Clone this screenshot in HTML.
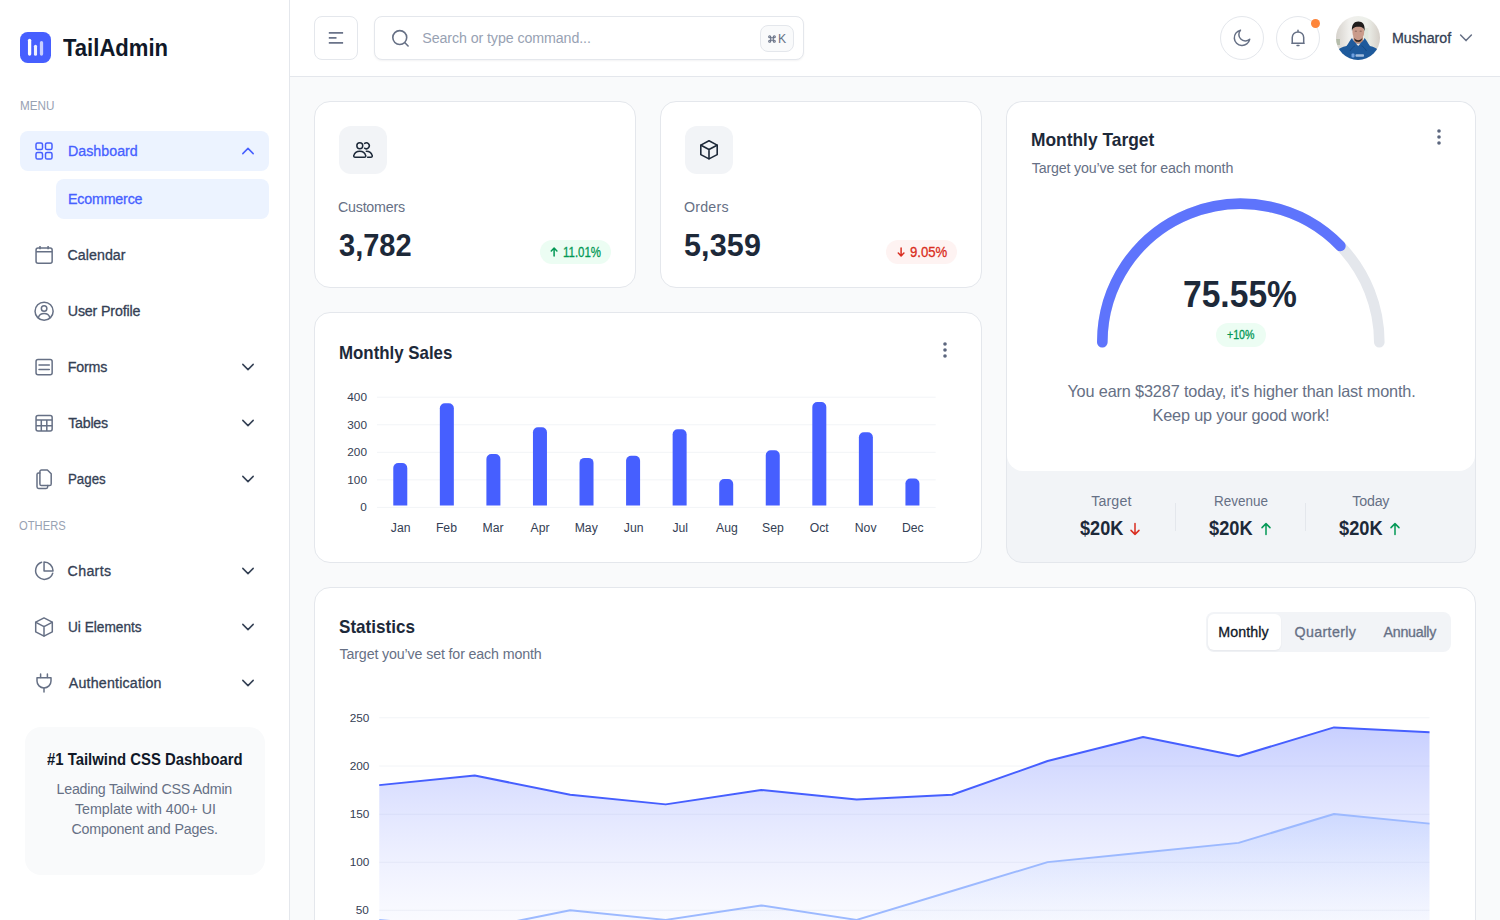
<!DOCTYPE html>
<html><head><meta charset="utf-8"><title>TailAdmin Dashboard</title>
<style>
*{box-sizing:border-box;margin:0;padding:0}
html,body{width:1500px;height:920px;overflow:hidden}
body{background:#f9fafb;font-family:"Liberation Sans",sans-serif;position:relative}
.t{position:absolute;white-space:nowrap}
.a{position:absolute}
svg.a{overflow:visible}
.card{position:absolute;background:#fff;border:1px solid #e4e7ec;border-radius:16px}
.ic{position:absolute;width:24px;height:24px;overflow:visible}
.ic *{fill:none;stroke:#667085;stroke-width:1.5;stroke-linecap:round;stroke-linejoin:round}
.chev{position:absolute;width:20px;height:20px;overflow:visible}
.chev path{fill:none;stroke:#344054;stroke-width:1.5;stroke-linecap:round;stroke-linejoin:round}
.hbtn{position:absolute;width:44px;height:44px;border:1px solid #e4e7ec;background:#fff}

</style></head><body>
<div class="a" style="left:0;top:0;width:290px;height:920px;background:#fff;border-right:1px solid #e4e7ec"></div>
<svg class="a" style="left:20px;top:32px" width="31" height="31" viewBox="0 0 32 32">
<rect width="32" height="32" rx="8" fill="#465fff"/>
<rect x="8.2" y="6.9" width="3.4" height="17.6" rx="1.7" fill="#fff"/>
<rect x="14.4" y="13.2" width="3.2" height="11.3" rx="1.6" fill="#fff" fill-opacity=".9"/>
<rect x="20.5" y="9.3" width="3.4" height="15.2" rx="1.7" fill="#fff" fill-opacity=".7"/>
</svg>
<div class="a" style="left:20px;top:131px;width:249px;height:40px;background:#ecf3ff;border-radius:8px"></div>
<div class="a" style="left:56px;top:179px;width:213px;height:40px;background:#ecf3ff;border-radius:8px"></div>
<svg class="ic" style="left:32px;top:139px" viewBox="0 0 24 24">
<rect x="4" y="4" width="6.5" height="6.5" rx="1.6" style="stroke:#465fff"/><rect x="13.5" y="4" width="6.5" height="6.5" rx="1.6" style="stroke:#465fff"/>
<rect x="4" y="13.5" width="6.5" height="6.5" rx="1.6" style="stroke:#465fff"/><rect x="13.5" y="13.5" width="6.5" height="6.5" rx="1.6" style="stroke:#465fff"/></svg>
<svg class="ic" style="left:32px;top:243px" viewBox="0 0 24 24"><rect x="4.05" y="5" width="16.1" height="15.25" rx="2"/><path d="M8 2.9V6.2M16.1 2.9V6.2M4.1 8.75H20.1" style="stroke-linecap:butt"/></svg>
<svg class="ic" style="left:32px;top:299px" viewBox="0 0 24 24"><circle cx="12.1" cy="12.2" r="9.05"/><circle cx="12.1" cy="9.4" r="2.75"/><path d="M6.4 18.4C7.3 15.9 9.4 14.6 12.1 14.6C14.8 14.6 16.9 15.9 17.8 18.4"/></svg>
<svg class="ic" style="left:32px;top:355px" viewBox="0 0 24 24"><rect x="4.05" y="4.55" width="16.1" height="15.3" rx="2"/><path d="M7 9.9H17.3M7 14.4H17.3"/></svg>
<svg class="ic" style="left:32px;top:411px" viewBox="0 0 24 24"><rect x="4.05" y="4.55" width="16.1" height="15.4" rx="2"/><path d="M4.1 9.1H20.1M4.1 14.7H20.1M9.3 9.1V19.9M14.8 9.1V19.9" style="stroke-linecap:butt"/></svg>
<svg class="ic" style="left:32px;top:467px" viewBox="0 0 24 24"><path d="M9.5 3H15.4L19.2 6.8V16.9C19.2 17.8 18.5 18.5 17.6 18.5H9.5C8.6 18.5 7.9 17.8 7.9 16.9V4.6C7.9 3.7 8.6 3 9.5 3Z"/><path d="M7.9 6H6.6C5.7 6 5 6.7 5 7.6V19.8C5 20.7 5.7 21.4 6.6 21.4H14.1C15 21.4 15.7 20.7 15.7 19.8V18.5"/></svg>
<svg class="ic" style="left:32px;top:559px" viewBox="0 0 24 24"><path d="M9.6 3.3A8.75 8.75 0 1 0 20.7 14.3"/><path d="M12.05 2.95V12H21.05A9.05 9.05 0 0 0 12.05 2.95Z"/></svg>
<svg class="ic" style="left:32px;top:615px" viewBox="0 0 24 24"><path d="M12 2.9L20.3 7.2V16.8L12 21.1L3.7 16.8V7.2Z"/><path d="M3.9 7.3L12 11.6L20.1 7.3M12 11.6V20.9"/></svg>
<svg class="ic" style="left:32px;top:671px" viewBox="0 0 24 24"><path d="M8.6 2.9V6.6M15.4 2.9V6.6"/><path d="M5 6.8H19V9.9C19 13.8 15.9 16.9 12 16.9C8.1 16.9 5 13.8 5 9.9Z"/><path d="M12 16.9V21"/></svg>
<svg class="chev" style="left:237.6px;top:141px" viewBox="0 0 20 20"><path d="M4.8 12.6L10 7.4L15.2 12.6" style="stroke:#465fff"/></svg>
<svg class="chev" style="left:237.6px;top:357px" viewBox="0 0 20 20"><path d="M4.8 7.4L10 12.6L15.2 7.4"/></svg>
<svg class="chev" style="left:237.6px;top:413px" viewBox="0 0 20 20"><path d="M4.8 7.4L10 12.6L15.2 7.4"/></svg>
<svg class="chev" style="left:237.6px;top:469px" viewBox="0 0 20 20"><path d="M4.8 7.4L10 12.6L15.2 7.4"/></svg>
<svg class="chev" style="left:237.6px;top:561px" viewBox="0 0 20 20"><path d="M4.8 7.4L10 12.6L15.2 7.4"/></svg>
<svg class="chev" style="left:237.6px;top:617px" viewBox="0 0 20 20"><path d="M4.8 7.4L10 12.6L15.2 7.4"/></svg>
<svg class="chev" style="left:237.6px;top:673px" viewBox="0 0 20 20"><path d="M4.8 7.4L10 12.6L15.2 7.4"/></svg>
<div class="a" style="left:25px;top:727px;width:240px;height:148px;background:#f9fafb;border-radius:16px"></div>
<div class="a" style="left:290px;top:0;width:1210px;height:77px;background:#fff;border-bottom:1px solid #e4e7ec"></div>
<div class="hbtn" style="left:314px;top:16px;border-radius:8px"></div>
<svg class="a" style="left:314px;top:16px" width="44" height="44" viewBox="0 0 44 44"><path d="M14.8 16.9H29.1M14.8 21.9H22.5M14.8 26.9H29.1" stroke="#6a7389" stroke-width="1.6" stroke-linecap="butt"/></svg>
<div class="a" style="left:374px;top:16px;width:430px;height:44px;border:1px solid #e4e7ec;border-radius:8px;background:#fff;box-shadow:0 1px 2px rgba(16,24,40,.05)"></div>
<svg class="a" style="left:388px;top:26px" width="24" height="24" viewBox="0 0 24 24"><circle cx="11.75" cy="11.6" r="6.95" fill="none" stroke="#667085" stroke-width="1.6"/><path d="M16.9 16.8L20.1 20" stroke="#667085" stroke-width="1.6" stroke-linecap="round"/></svg>
<div class="a" style="left:759.5px;top:25px;width:34px;height:27px;border:1px solid #e4e7ec;border-radius:8px;background:#f9fafb"></div>
<svg class="a" style="left:767.5px;top:34.5px" width="8" height="8" viewBox="0 0 8 8"><g fill="none" stroke="#667085" stroke-width="1.1">
<path d="M2.7 2.7H5.3V5.3H2.7Z"/><path d="M2.7 2.7V1.7A1 1 0 1 0 1.7 2.7H2.7M5.3 2.7V1.7A1 1 0 1 1 6.3 2.7H5.3M2.7 5.3V6.3A1 1 0 1 1 1.7 5.3H2.7M5.3 5.3V6.3A1 1 0 1 0 6.3 5.3H5.3"/></g></svg>
<div class="hbtn" style="left:1220px;top:16px;border-radius:50%"></div>
<svg class="ic" style="left:1230px;top:26px" viewBox="0 0 24 24"><path d="M10.45 4.17A7.76 7.76 0 1 0 19.68 13.34A6.52 6.52 0 0 1 10.45 4.17Z"/></svg>
<div class="hbtn" style="left:1276px;top:16px;border-radius:50%"></div>
<svg class="ic" style="left:1286px;top:26px" viewBox="0 0 24 24"><path d="M6.26 17.2V11.6A5.72 5.72 0 0 1 17.7 11.6V17.2M5.85 17.2H18.15M11.05 19.6H12.95M12 4.3V5.4"/></svg>
<div class="a" style="left:1311px;top:18.6px;width:9px;height:9px;border-radius:50%;background:#fd853a"></div>
<svg class="a" style="left:1336px;top:16px" width="44" height="44" viewBox="0 0 44 44"><defs><clipPath id="av"><circle cx="22" cy="22" r="22"/></clipPath>
<linearGradient id="avbg" x1="0" y1="0" x2="1" y2="0"><stop offset="0" stop-color="#d6d2cc"/><stop offset=".3" stop-color="#f0efec"/><stop offset=".7" stop-color="#edf0ea"/><stop offset="1" stop-color="#d5cfc8"/></linearGradient></defs>
<g clip-path="url(#av)"><rect width="44" height="44" fill="url(#avbg)"/>
<rect x="27.5" y="12" width="5" height="15" fill="#e0e7dc"/><rect x="0" y="23" width="4" height="6" fill="#8fa184" opacity=".5"/>
<path d="M17.5 20H27V29H17.5Z" fill="#b98b78"/><ellipse cx="22.3" cy="16" rx="5.9" ry="8.2" fill="#c99b8a"/><ellipse cx="19.9" cy="15.2" rx="1.2" ry=".7" fill="#7a5a50" opacity=".6"/><ellipse cx="24.7" cy="15.2" rx="1.2" ry=".7" fill="#7a5a50" opacity=".6"/>
<path d="M16 15.5C15.3 8.8 18.2 5.6 22.3 5.6C26.6 5.6 29.3 8.6 28.6 15.5C28.1 12.3 26.8 10.8 22.3 10.8C17.8 10.8 16.5 12.3 16 15.5Z" fill="#1f1d1c"/>
<path d="M18.1 21.8C19.3 25 25.1 25 26.3 21.8C25.9 25.1 24.3 25.9 22.2 25.9C20.1 25.9 18.5 25.1 18.1 21.8Z" fill="#2c2320"/>
<path d="M-2 44V39C0 34 5 31 10.5 30C12.5 27.5 14 24 16 22C17 24.5 18.5 26.8 22.3 28C26 26.8 27.5 24.5 28.6 22C30.5 24 32 27.5 34 30C39 31 44 34 46 39V44Z" fill="#1e5a9c"/>
<path d="M19.6 27.2L22.2 29.9L24.9 27.2C24 27.8 20.6 27.8 19.6 27.2Z" fill="#e9e4df"/>
<path d="M14 35C15.5 32.5 17.5 30.5 19 29.8M30.5 35C29 32.5 27 30.5 25.5 29.8" stroke="#174a84" stroke-width="1" fill="none"/>
<rect x="15.5" y="37.5" width="3" height="4" rx="1" fill="#6fa0e0"/><rect x="19.5" y="38.2" width="8.5" height="2.6" rx=".8" fill="#b9cde8" opacity=".85"/></g></svg>
<svg class="a" style="left:1456px;top:28px" width="20" height="20" viewBox="0 0 20 20"><path d="M4.6 7L10 12.6L15.4 7" fill="none" stroke="#667085" stroke-width="1.5" stroke-linecap="round" stroke-linejoin="round"/></svg>
<div class="card" style="left:314px;top:101px;width:321.92px;height:187px"></div>
<div class="card" style="left:659.92px;top:101px;width:321.92px;height:187px"></div>
<div class="card" style="left:314px;top:312px;width:667.83px;height:251px"></div>
<div class="card" style="left:1005.83px;top:101px;width:470.17px;height:462px;background:#f2f4f7"></div>
<div class="a" style="left:1006.83px;top:102px;width:468.17px;height:369px;background:#fff;border-radius:16px"></div>
<div class="card" style="left:314px;top:587px;width:1162px;height:420px"></div>
<div class="a" style="left:339px;top:126px;width:48px;height:48px;border-radius:12px;background:#f2f4f7"></div>
<div class="a" style="left:684.92px;top:126px;width:48px;height:48px;border-radius:12px;background:#f2f4f7"></div>
<svg class="ic" style="left:351px;top:138px" viewBox="0 0 24 24">
<circle cx="8.8" cy="7.8" r="2.95" style="stroke:#1d2939"/>
<path d="M13.6 5.4A2.95 2.95 0 1 1 13.6 10.2" style="stroke:#1d2939"/>
<path d="M4.1 19.15H13.4C14.4 19.15 15 18.4 14.7 17.6C14.1 15.2 12.5 13.2 8.75 13.2C5 13.2 3.4 15.2 2.8 17.6C2.5 18.4 3.1 19.15 4.1 19.15Z" style="stroke:#1d2939"/>
<path d="M15.3 13.2C19 13.3 20.6 15.2 21.2 17.6C21.5 18.4 20.9 19.15 19.9 19.15H16.6" style="stroke:#1d2939"/></svg>
<svg class="ic" style="left:696.92px;top:138px" viewBox="0 0 24 24">
<path d="M12 2.8L20.2 7.1V16.6L12 20.9L3.8 16.6V7.1Z" style="stroke:#1d2939;stroke-width:1.6"/><path d="M4 7.2L12 11.5L20 7.2M12 11.5V20.7" style="stroke:#1d2939;stroke-width:1.6"/></svg>
<div class="a" style="left:540px;top:240px;width:71px;height:24px;border-radius:12px;background:#ecfdf3"></div>
<svg class="a" style="left:548px;top:246px" width="12" height="12" viewBox="0 0 12 12"><path d="M6.1 10.1V2.2M3.3 5L6.1 2.1L8.9 5" fill="none" stroke="#039855" stroke-width="1.5" stroke-linecap="round" stroke-linejoin="round"/></svg>
<div class="a" style="left:885.84px;top:240px;width:71px;height:24px;border-radius:12px;background:#fef3f2"></div>
<svg class="a" style="left:894.84px;top:246px" width="12" height="12" viewBox="0 0 12 12"><path d="M6.1 1.9V9.8M3.3 7L6.1 9.9L8.9 7" fill="none" stroke="#d92d20" stroke-width="1.5" stroke-linecap="round" stroke-linejoin="round"/></svg>
<svg class="a" style="left:932.6px;top:337.6px" width="24" height="24" viewBox="0 0 24 24"><g fill="#5c667e"><circle cx="12" cy="6" r="1.8"/><circle cx="12" cy="12" r="1.8"/><circle cx="12" cy="18" r="1.8"/></g></svg>
<svg class="a" style="left:1427.25px;top:125.4px" width="24" height="24" viewBox="0 0 24 24"><g fill="#5c667e"><circle cx="12" cy="6" r="1.8"/><circle cx="12" cy="12" r="1.8"/><circle cx="12" cy="18" r="1.8"/></g></svg>
<svg class="a" style="left:0;top:0" width="1500" height="920"><path d="M377 397.2H935.7" stroke="#f2f4f7" stroke-width="1"/><path d="M377 424.75H935.7" stroke="#f2f4f7" stroke-width="1"/><path d="M377 452.3H935.7" stroke="#f2f4f7" stroke-width="1"/><path d="M377 479.85H935.7" stroke="#f2f4f7" stroke-width="1"/><path d="M377 507.4H935.7" stroke="#f2f4f7" stroke-width="1"/><path d="M393.28 505.4V468.12A5 5 0 0 1 398.28 463.12H402.28A5 5 0 0 1 407.28 468.12V505.4Z" fill="#465fff"/><path d="M439.84 505.4V408.33A5 5 0 0 1 444.84 403.33H448.84A5 5 0 0 1 453.84 408.33V505.4Z" fill="#465fff"/><path d="M486.40 505.4V459.02A5 5 0 0 1 491.40 454.02H495.40A5 5 0 0 1 500.40 459.02V505.4Z" fill="#465fff"/><path d="M532.96 505.4V432.30A5 5 0 0 1 537.96 427.30H541.96A5 5 0 0 1 546.96 432.30V505.4Z" fill="#465fff"/><path d="M579.52 505.4V462.88A5 5 0 0 1 584.52 457.88H588.52A5 5 0 0 1 593.52 462.88V505.4Z" fill="#465fff"/><path d="M626.08 505.4V460.68A5 5 0 0 1 631.08 455.68H635.08A5 5 0 0 1 640.08 460.68V505.4Z" fill="#465fff"/><path d="M672.64 505.4V434.23A5 5 0 0 1 677.64 429.23H681.64A5 5 0 0 1 686.64 434.23V505.4Z" fill="#465fff"/><path d="M719.20 505.4V484.09A5 5 0 0 1 724.20 479.09H728.20A5 5 0 0 1 733.20 484.09V505.4Z" fill="#465fff"/><path d="M765.76 505.4V455.17A5 5 0 0 1 770.76 450.17H774.76A5 5 0 0 1 779.76 455.17V505.4Z" fill="#465fff"/><path d="M812.32 505.4V406.95A5 5 0 0 1 817.32 401.95H821.32A5 5 0 0 1 826.32 406.95V505.4Z" fill="#465fff"/><path d="M858.88 505.4V437.26A5 5 0 0 1 863.88 432.26H867.88A5 5 0 0 1 872.88 437.26V505.4Z" fill="#465fff"/><path d="M905.44 505.4V483.54A5 5 0 0 1 910.44 478.54H914.44A5 5 0 0 1 919.44 483.54V505.4Z" fill="#465fff"/></svg>
<svg class="a" style="left:0;top:0" width="1500" height="920">
<path d="M1102.3 342.2A138.5 138.5 0 0 1 1379.3 342.2" fill="none" stroke="#e4e7ec" stroke-width="10.6" stroke-linecap="round"/>
<path d="M1102.3 342.2A138.5 138.5 0 0 1 1340.41 245.97" fill="none" stroke="#465fff" stroke-opacity=".85" stroke-width="10.6" stroke-linecap="round"/>
</svg>
<div class="a" style="left:1216px;top:323px;width:50px;height:24px;border-radius:12px;background:#ecfdf3"></div>
<div class="a" style="left:1175px;top:503px;width:1px;height:28px;background:#e4e7ec"></div>
<div class="a" style="left:1305px;top:503px;width:1px;height:28px;background:#e4e7ec"></div>
<svg class="a" style="left:1127.2px;top:520.8px" width="16" height="16" viewBox="0 0 16 16"><path d="M8 2.6V13.4M4 9.4L8 13.4L12 9.4" fill="none" stroke="#d92d20" stroke-width="1.5" stroke-linecap="round" stroke-linejoin="round"/></svg>
<svg class="a" style="left:1258.1px;top:520.8px" width="16" height="16" viewBox="0 0 16 16"><path d="M8 13.4V2.6M4 6.6L8 2.6L12 6.6" fill="none" stroke="#039855" stroke-width="1.5" stroke-linecap="round" stroke-linejoin="round"/></svg>
<svg class="a" style="left:1387.2px;top:520.8px" width="16" height="16" viewBox="0 0 16 16"><path d="M8 13.4V2.6M4 6.6L8 2.6L12 6.6" fill="none" stroke="#039855" stroke-width="1.5" stroke-linecap="round" stroke-linejoin="round"/></svg>
<div class="a" style="left:1206px;top:612px;width:245px;height:40px;border-radius:8px;background:#f2f4f7"></div>
<div class="a" style="left:1208px;top:614px;width:73px;height:36px;border-radius:6px;background:#fff;box-shadow:0 1px 2px rgba(16,24,40,.05)"></div>
<svg class="a" style="left:0;top:0" width="1500" height="920"><defs><linearGradient id="g1" gradientUnits="userSpaceOnUse" x1="0" y1="727.38" x2="0" y2="958.4"><stop offset="0" stop-color="#465fff" stop-opacity=".3"/><stop offset="1" stop-color="#a3afff" stop-opacity="0"/></linearGradient><linearGradient id="g2" gradientUnits="userSpaceOnUse" x1="0" y1="814.00" x2="0" y2="958.4"><stop offset="0" stop-color="#9cb9ff" stop-opacity=".3"/><stop offset="1" stop-color="#cedcff" stop-opacity="0"/></linearGradient></defs><path d="M379.25 717.75H1429.5" stroke="#f2f4f7" stroke-width="1"/><path d="M379.25 766.0H1429.5" stroke="#f2f4f7" stroke-width="1"/><path d="M379.25 814.25H1429.5" stroke="#f2f4f7" stroke-width="1"/><path d="M379.25 862.25H1429.5" stroke="#f2f4f7" stroke-width="1"/><path d="M379.25 910.25H1429.5" stroke="#f2f4f7" stroke-width="1"/><polygon points="379.25,785.12 474.73,775.50 570.20,794.75 665.68,804.38 761.16,789.94 856.63,799.56 952.11,794.75 1047.59,761.06 1143.07,737.00 1238.54,756.25 1334.02,727.38 1429.50,732.19 1429.5,958.4 379.25,958.4" fill="url(#g1)"/><polyline points="379.25,785.12 474.73,775.50 570.20,794.75 665.68,804.38 761.16,789.94 856.63,799.56 952.11,794.75 1047.59,761.06 1143.07,737.00 1238.54,756.25 1334.02,727.38 1429.50,732.19" fill="none" stroke="#465fff" stroke-width="2" stroke-linejoin="round"/><polygon points="379.25,919.88 474.73,929.50 570.20,910.25 665.68,919.88 761.16,905.44 856.63,919.88 952.11,891.00 1047.59,862.12 1143.07,852.50 1238.54,842.88 1334.02,814.00 1429.50,823.62 1429.5,958.4 379.25,958.4" fill="url(#g2)"/><polyline points="379.25,919.88 474.73,929.50 570.20,910.25 665.68,919.88 761.16,905.44 856.63,919.88 952.11,891.00 1047.59,862.12 1143.07,852.50 1238.54,842.88 1334.02,814.00 1429.50,823.62" fill="none" stroke="#9cb9ff" stroke-width="2" stroke-linejoin="round"/></svg>
<div class="t" style="left:63.00px;top:35.90px;font-size:24.32px;line-height:24.32px;color:#101828;font-weight:700;transform:scaleX(0.9079);transform-origin:0 0">TailAdmin</div>
<div class="t" style="left:19.64px;top:100.00px;font-size:12.21px;line-height:12.21px;color:#98a2b3;transform:scaleX(0.9588);transform-origin:0 0">MENU</div>
<div class="t" style="left:68.00px;top:144.00px;font-size:14.24px;line-height:14.24px;color:#465fff;-webkit-text-stroke:0.3px #465fff;letter-spacing:0.012px">Dashboard</div>
<div class="t" style="left:68.00px;top:192.00px;font-size:14.24px;line-height:14.24px;color:#465fff;-webkit-text-stroke:0.3px #465fff;letter-spacing:-0.175px">Ecommerce</div>
<div class="t" style="left:67.50px;top:248.00px;font-size:14.24px;line-height:14.24px;color:#344054;-webkit-text-stroke:0.3px #344054;letter-spacing:0.043px">Calendar</div>
<div class="t" style="left:67.80px;top:304.00px;font-size:14.24px;line-height:14.24px;color:#344054;-webkit-text-stroke:0.3px #344054;letter-spacing:-0.164px">User Profile</div>
<div class="t" style="left:67.80px;top:360.00px;font-size:14.24px;line-height:14.24px;color:#344054;-webkit-text-stroke:0.3px #344054;letter-spacing:-0.200px">Forms</div>
<div class="t" style="left:68.20px;top:416.00px;font-size:14.24px;line-height:14.24px;color:#344054;-webkit-text-stroke:0.3px #344054;letter-spacing:-0.240px">Tables</div>
<div class="t" style="left:67.97px;top:472.00px;font-size:14.24px;line-height:14.24px;color:#344054;-webkit-text-stroke:0.3px #344054;transform:scaleX(0.9333);transform-origin:0 0">Pages</div>
<div class="t" style="left:19.28px;top:519.80px;font-size:12.21px;line-height:12.21px;color:#98a2b3;transform:scaleX(0.9184);transform-origin:0 0">OTHERS</div>
<div class="t" style="left:67.60px;top:564.00px;font-size:14.24px;line-height:14.24px;color:#344054;-webkit-text-stroke:0.3px #344054;letter-spacing:0.300px">Charts</div>
<div class="t" style="left:67.84px;top:620.00px;font-size:14.24px;line-height:14.24px;color:#344054;-webkit-text-stroke:0.3px #344054;transform:scaleX(0.9600);transform-origin:0 0">Ui Elements</div>
<div class="t" style="left:68.80px;top:676.00px;font-size:14.24px;line-height:14.24px;color:#344054;-webkit-text-stroke:0.3px #344054;letter-spacing:0.185px">Authentication</div>
<div class="t" style="left:47.20px;top:751.20px;font-size:16.28px;line-height:16.28px;color:#101828;font-weight:700;transform:scaleX(0.9146);transform-origin:0 0">#1 Tailwind CSS Dashboard</div>
<div class="t" style="left:56.60px;top:781.90px;font-size:14.24px;line-height:14.24px;color:#667085;letter-spacing:-0.244px">Leading Tailwind CSS Admin</div>
<div class="t" style="left:75.00px;top:801.90px;font-size:14.24px;line-height:14.24px;color:#667085;letter-spacing:-0.015px">Template with 400+ UI</div>
<div class="t" style="left:71.40px;top:821.90px;font-size:14.24px;line-height:14.24px;color:#667085;letter-spacing:-0.158px">Component and Pages.</div>
<div class="t" style="left:422.30px;top:30.50px;font-size:14.24px;line-height:14.24px;color:#98a2b3;letter-spacing:-0.096px">Search or type command...</div>
<div class="t" style="left:778.00px;top:32.90px;font-size:12.21px;line-height:12.21px;color:#667085">K</div>
<div class="t" style="left:1391.90px;top:30.80px;font-size:14.24px;line-height:14.24px;color:#344054;-webkit-text-stroke:0.3px #344054;letter-spacing:-0.014px">Musharof</div>
<div class="t" style="left:338.00px;top:200.00px;font-size:14.24px;line-height:14.24px;color:#667085;letter-spacing:-0.225px">Customers</div>
<div class="t" style="left:338.65px;top:230.00px;font-size:30.52px;line-height:30.52px;color:#1d2939;font-weight:700;transform:scaleX(0.9514);transform-origin:0 0">3,782</div>
<div class="t" style="left:563.20px;top:244.60px;font-size:14.24px;line-height:14.24px;color:#039855;-webkit-text-stroke:0.3px #039855;transform:scaleX(0.8043);transform-origin:0 0">11.01%</div>
<div class="t" style="left:684.00px;top:200.00px;font-size:14.24px;line-height:14.24px;color:#667085;letter-spacing:0.200px">Orders</div>
<div class="t" style="left:684.00px;top:230.00px;font-size:30.52px;line-height:30.52px;color:#1d2939;font-weight:700;letter-spacing:0.150px">5,359</div>
<div class="t" style="left:909.68px;top:244.60px;font-size:14.24px;line-height:14.24px;color:#d92d20;-webkit-text-stroke:0.3px #d92d20;transform:scaleX(0.9231);transform-origin:0 0">9.05%</div>
<div class="t" style="left:338.78px;top:344.10px;font-size:18.31px;line-height:18.31px;color:#1d2939;font-weight:700;transform:scaleX(0.9215);transform-origin:0 0">Monthly Sales</div>
<div class="t" style="left:1030.75px;top:130.80px;font-size:18.31px;line-height:18.31px;color:#1d2939;font-weight:700;transform:scaleX(0.9496);transform-origin:0 0">Monthly Target</div>
<div class="t" style="left:1031.70px;top:161.00px;font-size:14.24px;line-height:14.24px;color:#667085;letter-spacing:-0.158px">Target you’ve set for each month</div>
<div class="t" style="left:1183.17px;top:277.00px;font-size:36.63px;line-height:36.63px;color:#1d2939;font-weight:700;transform:scaleX(0.9174);transform-origin:0 0">75.55%</div>
<div class="t" style="left:1226.93px;top:329.00px;font-size:12.21px;line-height:12.21px;color:#039855;-webkit-text-stroke:0.3px #039855;transform:scaleX(0.8700);transform-origin:0 0">+10%</div>
<div class="t" style="left:1067.40px;top:383.30px;font-size:16.28px;line-height:16.28px;color:#667085;letter-spacing:-0.151px">You earn $3287 today, it's higher than last month.</div>
<div class="t" style="left:1152.60px;top:406.60px;font-size:16.28px;line-height:16.28px;color:#667085;letter-spacing:-0.182px">Keep up your good work!</div>
<div class="t" style="left:1091.30px;top:493.80px;font-size:14.24px;line-height:14.24px;color:#667085;letter-spacing:0.100px">Target</div>
<div class="t" style="left:1214.05px;top:493.80px;font-size:14.24px;line-height:14.24px;color:#667085;transform:scaleX(0.9473);transform-origin:0 0">Revenue</div>
<div class="t" style="left:1352.30px;top:493.80px;font-size:14.24px;line-height:14.24px;color:#667085;letter-spacing:-0.200px">Today</div>
<div class="t" style="left:1079.70px;top:519.00px;font-size:19.33px;line-height:19.33px;color:#1d2939;font-weight:700;transform:scaleX(0.9370);transform-origin:0 0">$20K</div>
<div class="t" style="left:1209.30px;top:519.00px;font-size:19.33px;line-height:19.33px;color:#1d2939;font-weight:700;transform:scaleX(0.9435);transform-origin:0 0">$20K</div>
<div class="t" style="left:1339.00px;top:519.00px;font-size:19.33px;line-height:19.33px;color:#1d2939;font-weight:700;transform:scaleX(0.9435);transform-origin:0 0">$20K</div>
<div class="t" style="left:338.57px;top:618.00px;font-size:18.31px;line-height:18.31px;color:#1d2939;font-weight:700;transform:scaleX(0.9337);transform-origin:0 0">Statistics</div>
<div class="t" style="left:339.50px;top:646.70px;font-size:14.24px;line-height:14.24px;color:#667085;letter-spacing:-0.139px">Target you’ve set for each month</div>
<div class="t" style="left:1218.20px;top:625.10px;font-size:14.24px;line-height:14.24px;color:#101828;-webkit-text-stroke:0.3px #101828;letter-spacing:0.117px">Monthly</div>
<div class="t" style="left:1294.50px;top:625.10px;font-size:14.24px;line-height:14.24px;color:#667085;-webkit-text-stroke:0.3px #667085;letter-spacing:0.363px">Quarterly</div>
<div class="t" style="left:1383.50px;top:625.10px;font-size:14.24px;line-height:14.24px;color:#667085;-webkit-text-stroke:0.3px #667085;letter-spacing:-0.257px">Annually</div>
<div class="t" style="left:347.30px;top:392.10px;font-size:11.8px;line-height:11.8px;color:#344054">400</div>
<div class="t" style="left:347.30px;top:419.60px;font-size:11.8px;line-height:11.8px;color:#344054">300</div>
<div class="t" style="left:347.30px;top:447.10px;font-size:11.8px;line-height:11.8px;color:#344054">200</div>
<div class="t" style="left:347.30px;top:474.70px;font-size:11.8px;line-height:11.8px;color:#344054">100</div>
<div class="t" style="left:360.30px;top:502.30px;font-size:11.8px;line-height:11.8px;color:#344054">0</div>
<div class="t" style="left:390.80px;top:522.00px;font-size:12.21px;line-height:12.21px;color:#344054">Jan</div>
<div class="t" style="left:435.90px;top:522.00px;font-size:12.21px;line-height:12.21px;color:#344054">Feb</div>
<div class="t" style="left:482.50px;top:522.00px;font-size:12.21px;line-height:12.21px;color:#344054">Mar</div>
<div class="t" style="left:530.60px;top:522.00px;font-size:12.21px;line-height:12.21px;color:#344054">Apr</div>
<div class="t" style="left:574.70px;top:522.00px;font-size:12.21px;line-height:12.21px;color:#344054">May</div>
<div class="t" style="left:623.80px;top:522.00px;font-size:12.21px;line-height:12.21px;color:#344054">Jun</div>
<div class="t" style="left:672.40px;top:522.00px;font-size:12.21px;line-height:12.21px;color:#344054">Jul</div>
<div class="t" style="left:716.00px;top:522.00px;font-size:12.21px;line-height:12.21px;color:#344054">Aug</div>
<div class="t" style="left:762.10px;top:522.00px;font-size:12.21px;line-height:12.21px;color:#344054">Sep</div>
<div class="t" style="left:809.70px;top:522.00px;font-size:12.21px;line-height:12.21px;color:#344054">Oct</div>
<div class="t" style="left:854.80px;top:522.00px;font-size:12.21px;line-height:12.21px;color:#344054">Nov</div>
<div class="t" style="left:901.90px;top:522.00px;font-size:12.21px;line-height:12.21px;color:#344054">Dec</div>
<div class="t" style="left:349.75px;top:712.65px;font-size:11.8px;line-height:11.8px;color:#344054">250</div>
<div class="t" style="left:349.75px;top:760.90px;font-size:11.8px;line-height:11.8px;color:#344054">200</div>
<div class="t" style="left:349.75px;top:809.15px;font-size:11.8px;line-height:11.8px;color:#344054">150</div>
<div class="t" style="left:349.75px;top:857.15px;font-size:11.8px;line-height:11.8px;color:#344054">100</div>
<div class="t" style="left:355.75px;top:905.15px;font-size:11.8px;line-height:11.8px;color:#344054">50</div>
</body></html>
